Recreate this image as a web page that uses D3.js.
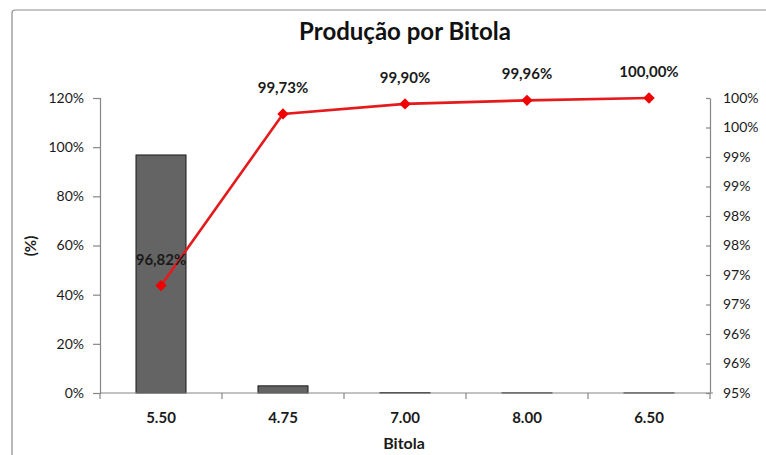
<!DOCTYPE html>
<html><head><meta charset="utf-8">
<script src="https://cdn.jsdelivr.net/npm/d3@7"></script>
<style>body{margin:0;background:#fff}svg{display:block}text{font-family:Lato,"Open Sans",sans-serif}</style>
</head><body>
<script>
const categories = ["5.50","4.75","7.00","8.00","6.50"];
const barValues = [96.82, 2.91, 0.17, 0.06, 0.04];
const cumValues = [96.82, 99.73, 99.90, 99.96, 100.00];
const cumLabels = ["96,82%","99,73%","99,90%","99,96%","100,00%"];
const leftTicks = [0,20,40,60,80,100,120];
const rightTicks = [95,95.5,96,96.5,97,97.5,98,98.5,99,99.5,100];
const rightTickLabels = ["95%","96%","96%","97%","97%","98%","98%","99%","99%","100%","100%"];

const W=766,H=455;
const svg=d3.select("body").append("svg").attr("width",W).attr("height",H);
svg.append("rect").attr("x",12).attr("y",10).attr("width",W).attr("height",H).attr("rx",3)
  .attr("fill","#fff").attr("stroke","#8c8c8c").attr("stroke-width",1.2);

const L=100,R=710,T=98,B=393;
const x=d3.scaleBand().domain(categories).range([L,R]).paddingInner(0).paddingOuter(0);
const yL=d3.scaleLinear().domain([0,120]).range([B,T]);
const yR=d3.scaleLinear().domain([95,100]).range([B,T]);
const axisCol="#868686";

// bars
const bw=x.bandwidth()*0.41;
svg.selectAll("rect.bar").data(barValues).join("rect").attr("class","bar")
  .attr("x",(d,i)=>x(categories[i])+x.bandwidth()/2-bw/2)
  .attr("y",d=>yL(d)).attr("width",bw).attr("height",d=>Math.max(0,B-yL(d)))
  .attr("fill","#646464").attr("stroke","#1a1a1a").attr("stroke-width",1);

// left axis
const gl=svg.append("g").attr("transform",`translate(${L},0)`)
  .call(d3.axisLeft(yL).tickValues(leftTicks).tickFormat(d=>d+"%").tickSize(7).tickPadding(9));
// right axis
const gr=svg.append("g").attr("transform",`translate(${R},0)`)
  .call(d3.axisRight(yR).tickValues(rightTicks).tickFormat((d,i)=>rightTickLabels[i]).tickSize(0).tickPadding(13));
gr.selectAll(".tick line").attr("x1",-4).attr("x2",0);
// bottom axis
const gb=svg.append("g").attr("transform",`translate(0,${B})`)
  .call(d3.axisBottom(x).tickSize(0).tickPadding(19));
gb.selectAll(".domain").remove();
svg.append("line").attr("x1",L).attr("x2",R+3).attr("y1",B).attr("y2",B).attr("stroke",axisCol).attr("stroke-width",1.2);
const bounds=[...categories.map(c=>x(c)),R];
svg.selectAll("line.xt").data(bounds).join("line").attr("class","xt")
  .attr("x1",d=>d).attr("x2",d=>d).attr("y1",B).attr("y2",B+6).attr("stroke",axisCol).attr("stroke-width",1.2);

[gl,gr,gb].forEach(g=>{
  g.selectAll(".domain").attr("stroke",axisCol).attr("stroke-width",1.2);
  g.selectAll(".tick line").attr("stroke",axisCol).attr("stroke-width",1.2);
  g.selectAll(".tick text").attr("fill","#1a1a1a").style("font-size","14px").style("font-family","Lato,sans-serif");
});
gb.selectAll(".tick text").style("font-size","15px").style("font-weight","bold").attr("fill","#1a1a1a");

// line
const line=d3.line().x((d,i)=>x(categories[i])+x.bandwidth()/2).y(d=>yR(d));
svg.append("path").datum(cumValues).attr("d",line).attr("fill","none").attr("stroke","#e41a1c").attr("stroke-width",2.6);
svg.selectAll("path.mk").data(cumValues).join("path").attr("class","mk")
  .attr("d",d3.symbol(d3.symbolSquare,64))
  .attr("transform",(d,i)=>`translate(${x(categories[i])+x.bandwidth()/2},${yR(d)}) rotate(45)`)
  .attr("fill","#f00000");
svg.selectAll("text.lbl").data(cumValues).join("text").attr("class","lbl")
  .attr("x",(d,i)=>x(categories[i])+x.bandwidth()/2).attr("y",d=>yR(d)-21)
  .attr("text-anchor","middle").style("font-size","15px").style("font-weight","bold").attr("fill","#1a1a1a")
  .text((d,i)=>cumLabels[i]);

// titles
svg.append("text").attr("x",405).attr("y",40).attr("text-anchor","middle")
  .style("font-size","24px").style("font-weight","bold").attr("fill","#111").text("Produção por Bitola");
svg.append("text").attr("x",404).attr("y",449).attr("text-anchor","middle")
  .style("font-size","16px").style("font-weight","bold").attr("fill","#1a1a1a").text("Bitola");
svg.append("text").attr("transform","translate(36,246) rotate(-90)").attr("text-anchor","middle")
  .style("font-size","15px").style("font-weight","bold").attr("fill","#1a1a1a").text("(%)");
</script>
</body></html>
